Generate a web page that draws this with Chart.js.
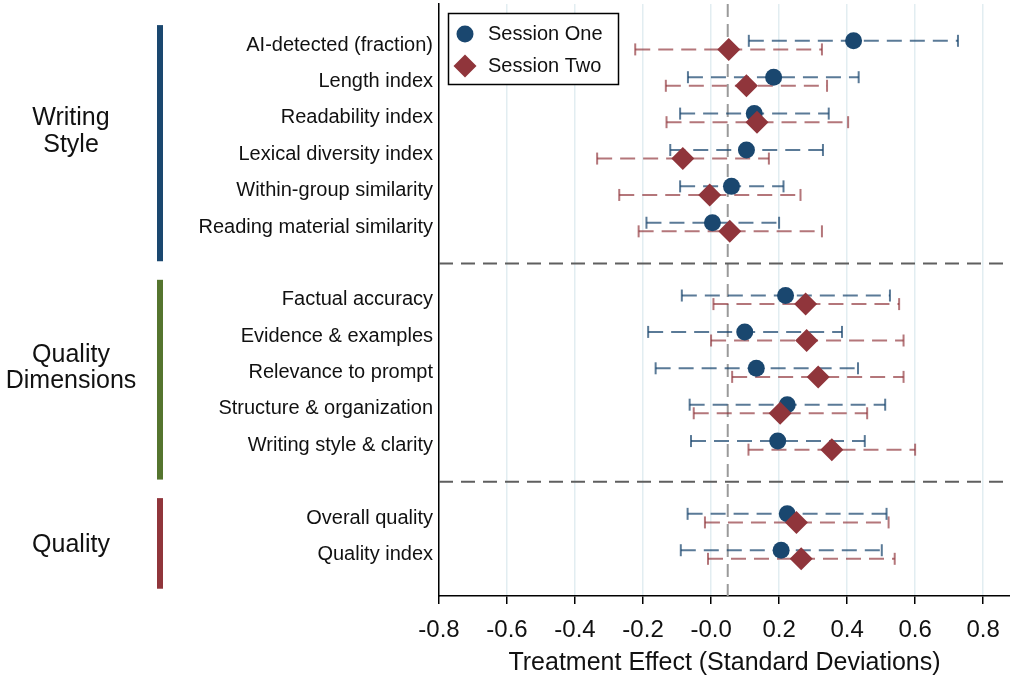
<!DOCTYPE html>
<html>
<head>
<meta charset="utf-8">
<script src="https://cdn.jsdelivr.net/npm/chart.js@4.4.0/dist/chart.umd.min.js"></script>
<style>
  html, body { margin: 0; padding: 0; background: #fff; }
  #wrap { width: 1010px; height: 676px; }
</style>
</head>
<body>
<div id="wrap"><canvas id="effectsChart" width="1010" height="676"></canvas></div>
<script>
// outcome rows, top to bottom
const categories = [
  "AI-detected (fraction)", "Length index", "Readability index",
  "Lexical diversity index", "Within-group similarity", "Reading material similarity",
  "Factual accuracy", "Evidence & examples", "Relevance to prompt",
  "Structure & organization", "Writing style & clarity",
  "Overall quality", "Quality index"
];
const rowPositions = [0, 1, 2, 3, 4, 5, 7, 8, 9, 10, 11, 13, 14];

const sessionNames = ["Session One", "Session Two"];

// Session One: estimate and 95% CI
const s1Est = [0.419, 0.184, 0.127, 0.104, 0.060, 0.004, 0.219, 0.099, 0.133, 0.224, 0.196, 0.224, 0.206];
const s1Lo  = [0.111, -0.068, -0.091, -0.120, -0.091, -0.190, -0.086, -0.185, -0.163, -0.063, -0.059, -0.069, -0.089];
const s1Hi  = [0.726, 0.434, 0.346, 0.329, 0.213, 0.200, 0.526, 0.385, 0.432, 0.512, 0.452, 0.516, 0.502];

// Session Two: estimate and 95% CI
const s2Est = [0.052, 0.104, 0.135, -0.083, -0.004, 0.055, 0.278, 0.281, 0.315, 0.203, 0.355, 0.251, 0.265];
const s2Lo  = [-0.223, -0.133, -0.131, -0.335, -0.270, -0.213, 0.007, 0.000, 0.062, -0.051, 0.110, -0.018, -0.009];
const s2Hi  = [0.326, 0.341, 0.403, 0.170, 0.263, 0.326, 0.553, 0.566, 0.566, 0.459, 0.600, 0.522, 0.540];

const groupNames = [["Writing", "Style"], ["Quality", "Dimensions"], ["Quality"]];
const groupFirstRow = [0, 7, 13];
const groupLastRow = [5, 11, 14];
const groupColors = ["#1a476f", "#55752f", "#90353b"];
const separatorRows = [6, 12];

const xTickValues = [-0.8, -0.6, -0.4, -0.2, 0, 0.2, 0.4, 0.6, 0.8];
const xTickLabels = ["-0.8", "-0.6", "-0.4", "-0.2", "-0.0", "0.2", "0.4", "0.6", "0.8"];
const refLineValue = 0.049;

// layout bits
const X_MIN = -0.8, X_MAX = 0.879;
const Y_MIN = -1.13, Y_MAX = 15.14;
const ROW_OFFSET = 0.118;
const groupLabelRow = [2.376, 8.878, 13.745];
const FONT = "'Liberation Sans', Arial, Helvetica, sans-serif";

const s1Color = "#1a476f", s1Line = "rgba(26,71,111,0.72)";
const s2Color = "#90353b", s2Line = "rgba(144,53,59,0.68)";

const datasets = [];

// dashed reference line
datasets.push({
  type: "line",
  data: [{ x: refLineValue, y: Y_MIN }, { x: refLineValue, y: Y_MAX }],
  borderColor: "#9a9a9a",
  borderWidth: 2,
  borderDash: [13, 7],
  pointRadius: 0,
  order: 20
});

// group separators
separatorRows.forEach(r => {
  datasets.push({
    type: "line",
    data: [{ x: X_MIN, y: r }, { x: X_MAX, y: r }],
    borderColor: "#5f5f5f",
    borderWidth: 2,
    borderDash: [14, 8],
    pointRadius: 0,
    order: 19
  });
});

// confidence intervals
function addCIs(lo, hi, off, color) {
  lo.forEach((v, i) => {
    datasets.push({
      type: "line",
      data: [{ x: v, y: rowPositions[i] + off }, { x: hi[i], y: rowPositions[i] + off }],
      borderColor: color,
      borderWidth: 2,
      borderDash: [15, 8],
      pointStyle: "line",
      pointRotation: 90,
      pointRadius: 6,
      pointBorderWidth: 2,
      pointBorderColor: color,
      pointBackgroundColor: color,
      fill: false,
      order: 10
    });
  });
}
addCIs(s1Lo, s1Hi, -ROW_OFFSET, s1Line);
addCIs(s2Lo, s2Hi, ROW_OFFSET, s2Line);

// point estimates
datasets.push({
  type: "scatter",
  label: sessionNames[0],
  data: s1Est.map((v, i) => ({ x: v, y: rowPositions[i] - ROW_OFFSET })),
  pointStyle: "circle",
  pointRadius: 8.5,
  backgroundColor: s1Color,
  borderWidth: 0,
  order: 2
});
datasets.push({
  type: "scatter",
  label: sessionNames[1],
  data: s2Est.map((v, i) => ({ x: v, y: rowPositions[i] + ROW_OFFSET })),
  pointStyle: "rectRot",
  pointRadius: 11.5,
  backgroundColor: s2Color,
  borderWidth: 0,
  order: 1
});

// group bars, group titles and the boxed legend
const extrasPlugin = {
  id: "extras",
  afterDraw(chart) {
    const ctx = chart.ctx;
    const y = chart.scales.y;
    ctx.save();
    groupNames.forEach((lines, g) => {
      const top = y.getPixelForValue(groupFirstRow[g] - 0.55);
      const bot = y.getPixelForValue(groupLastRow[g] + 0.94);
      ctx.fillStyle = groupColors[g];
      ctx.fillRect(157, top, 6, bot - top);

      ctx.fillStyle = "#111";
      ctx.font = "25px " + FONT;
      ctx.textAlign = "center";
      ctx.textBaseline = "middle";
      const cy = y.getPixelForValue(groupLabelRow[g]);
      const lh = 26.5;
      lines.forEach((t, k) => {
        ctx.fillText(t, 71, cy + (k - (lines.length - 1) / 2) * lh);
      });
    });

    // legend
    ctx.fillStyle = "#fff";
    ctx.fillRect(448, 13, 171, 72);
    ctx.strokeStyle = "#000";
    ctx.lineWidth = 1.5;
    ctx.strokeRect(448.5, 13.5, 170, 71);

    ctx.fillStyle = s1Color;
    ctx.beginPath();
    ctx.arc(465, 34, 8.5, 0, Math.PI * 2);
    ctx.fill();

    ctx.fillStyle = s2Color;
    ctx.beginPath();
    ctx.moveTo(465, 54.5);
    ctx.lineTo(476.5, 66);
    ctx.lineTo(465, 77.5);
    ctx.lineTo(453.5, 66);
    ctx.closePath();
    ctx.fill();

    ctx.fillStyle = "#111";
    ctx.font = "20px " + FONT;
    ctx.textAlign = "left";
    ctx.textBaseline = "middle";
    ctx.fillText(sessionNames[0], 488, 34);
    ctx.fillText(sessionNames[1], 488, 66);
    ctx.restore();
  }
};

function noPad(axis) {
  axis.paddingTop = 0;
  axis.paddingBottom = 0;
  axis.paddingLeft = 0;
  axis.paddingRight = 0;
}

new Chart(document.getElementById("effectsChart").getContext("2d"), {
  data: { datasets: datasets },
  plugins: [extrasPlugin],
  options: {
    responsive: false,
    animation: false,
    events: [],
    devicePixelRatio: 1,
    layout: { autoPadding: false, padding: { top: 4, left: 0, right: 0, bottom: 0 } },
    plugins: {
      legend: { display: false },
      tooltip: { enabled: false }
    },
    scales: {
      x: {
        type: "linear",
        min: X_MIN,
        max: X_MAX,
        afterBuildTicks: axis => { axis.ticks = xTickValues.map(v => ({ value: v })); },
        afterFit: axis => { axis.height = 80; noPad(axis); },
        ticks: {
          autoSkip: false,
          maxRotation: 0,
          padding: 12,
          color: "#111",
          font: { family: FONT, size: 24 },
          callback: (v, i) => xTickLabels[i]
        },
        grid: {
          color: "#e2edf1",
          lineWidth: 1.5,
          tickColor: "#000",
          tickWidth: 1.5,
          tickLength: 8
        },
        border: { display: true, color: "#000", width: 1.5 },
        title: {
          display: true,
          text: "Treatment Effect (Standard Deviations)",
          color: "#111",
          font: { family: FONT, size: 25 },
          padding: { top: 0, bottom: -2 }
        }
      },
      y: {
        type: "linear",
        reverse: true,
        min: Y_MIN,
        max: Y_MAX,
        afterBuildTicks: axis => { axis.ticks = rowPositions.map(v => ({ value: v })); },
        afterFit: axis => { axis.width = 439; noPad(axis); },
        ticks: {
          autoSkip: false,
          padding: 6,
          color: "#111",
          font: { family: FONT, size: 20 },
          callback: (v, i) => categories[i]
        },
        grid: { display: false, drawTicks: false },
        border: { display: true, color: "#000", width: 1.5 }
      }
    }
  }
});
</script>
</body>
</html>
